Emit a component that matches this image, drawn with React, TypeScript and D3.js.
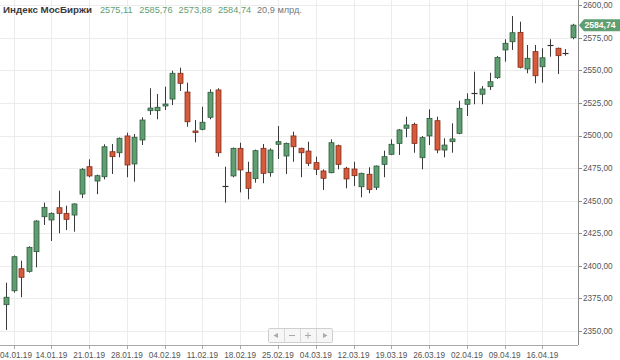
import * as d3 from "d3"
import React, { useEffect } from "react"

// trading days, 2019
const dates = [
    "03.01", "04.01", "08.01", "09.01", "10.01", "11.01",
    "14.01", "15.01", "16.01", "17.01", "18.01",
    "21.01", "22.01", "23.01", "24.01", "25.01",
    "28.01", "29.01", "30.01", "31.01", "01.02",
    "04.02", "05.02", "06.02", "07.02", "08.02",
    "11.02", "12.02", "13.02", "14.02", "15.02",
    "18.02", "19.02", "20.02", "21.02", "22.02",
    "25.02", "26.02", "27.02", "28.02", "01.03",
    "04.03", "05.03", "06.03", "07.03", "11.03",
    "12.03", "13.03", "14.03", "15.03", "18.03",
    "19.03", "20.03", "21.03", "22.03", "25.03",
    "26.03", "27.03", "28.03", "29.03", "01.04",
    "02.04", "03.04", "04.04", "05.04", "08.04",
    "09.04", "10.04", "11.04", "12.04", "15.04",
    "16.04", "17.04", "18.04", "19.04", "22.04",
]

const opens = [
    2370.2, 2380.9, 2397.8, 2395.8, 2410.9, 2437.7, 2435.2, 2444.6, 2440.3, 2439.0,
    2455.1, 2476.1, 2465.1, 2468.4, 2487.6, 2486.8, 2499.7, 2478.2, 2496.6, 2519.1,
    2519.1, 2522.7, 2528.0, 2547.8, 2533.4, 2503.5, 2504.8, 2514.0, 2535.0, 2461.0,
    2469.0, 2490.2, 2471.8, 2466.9, 2490.2, 2471.5, 2493.3, 2484.3, 2499.7, 2490.2,
    2488.1, 2479.2, 2472.8, 2471.5, 2492.2, 2474.9, 2474.3, 2460.7, 2470.3, 2460.3,
    2477.9, 2485.6, 2494.0, 2505.6, 2508.6, 2483.0, 2499.7, 2511.4, 2488.9, 2495.3,
    2501.7, 2524.0, 2532.5, 2531.7, 2537.5, 2544.4, 2565.7, 2572.0, 2579.2, 2551.1,
    2564.4, 2552.8, 2569.5, 2567.0, 2563.5, 2575.11,
]
const highs = [
    2387.1, 2408.0, 2403.9, 2415.0, 2435.0, 2448.5, 2441.0, 2457.7, 2446.2, 2448.0,
    2475.0, 2481.8, 2470.0, 2493.3, 2493.5, 2498.5, 2502.2, 2501.2, 2514.0, 2536.3,
    2531.9, 2537.5, 2549.8, 2552.1, 2540.6, 2511.9, 2522.1, 2535.5, 2536.3, 2476.1,
    2490.8, 2494.5, 2479.9, 2489.2, 2493.5, 2490.2, 2507.3, 2494.6, 2503.0, 2490.7,
    2495.3, 2483.8, 2474.0, 2497.1, 2493.0, 2476.0, 2479.9, 2471.5, 2475.6, 2477.0,
    2488.4, 2497.1, 2505.0, 2514.5, 2509.9, 2499.7, 2520.1, 2514.5, 2497.9, 2509.4,
    2526.7, 2532.4, 2549.0, 2538.0, 2548.2, 2561.0, 2573.9, 2591.7, 2587.4, 2569.5,
    2569.5, 2567.0, 2573.9, 2567.5, 2566.4, 2585.76,
]
const lows = [
    2350.8, 2379.5, 2375.9, 2394.8, 2398.9, 2431.4, 2419.1, 2425.0, 2427.5, 2426.2,
    2452.0, 2468.0, 2455.0, 2466.4, 2470.5, 2483.3, 2468.0, 2464.6, 2492.7, 2515.8,
    2512.5, 2519.6, 2523.4, 2534.2, 2506.8, 2494.8, 2504.0, 2512.5, 2483.8, 2448.5,
    2468.0, 2456.4, 2451.1, 2463.8, 2463.4, 2468.4, 2482.0, 2470.5, 2479.9, 2468.0,
    2476.6, 2469.7, 2458.2, 2471.0, 2474.1, 2459.5, 2461.3, 2452.6, 2455.7, 2458.2,
    2468.0, 2485.0, 2485.1, 2498.7, 2486.8, 2474.1, 2492.7, 2486.4, 2483.3, 2486.8,
    2501.0, 2515.0, 2524.0, 2524.0, 2535.0, 2543.5, 2556.7, 2565.7, 2551.6, 2547.8,
    2540.1, 2540.6, 2560.5, 2547.2, 2561.3, 2573.88,
]
const closes = [
    2375.9, 2407.0, 2391.2, 2414.2, 2434.4, 2444.9, 2440.3, 2440.3, 2435.7, 2447.5,
    2474.1, 2469.0, 2469.2, 2491.4, 2483.8, 2497.9, 2477.4, 2498.7, 2511.9, 2521.1,
    2521.7, 2524.2, 2547.8, 2540.1, 2510.6, 2502.5, 2510.2, 2533.2, 2486.8, 2461.0,
    2490.2, 2473.6, 2459.5, 2488.4, 2471.0, 2488.9, 2495.3, 2494.0, 2491.4, 2486.8,
    2478.7, 2474.1, 2467.2, 2494.5, 2477.9, 2466.7, 2469.2, 2471.0, 2458.7, 2476.6,
    2483.8, 2493.3, 2504.3, 2508.1, 2494.0, 2498.4, 2513.2, 2488.9, 2492.7, 2497.4,
    2520.9, 2527.8, 2532.5, 2535.7, 2541.3, 2560.0, 2570.8, 2578.9, 2552.4, 2559.3,
    2545.9, 2559.7, 2569.5, 2561.3, 2563.5, 2584.74,
]

const tickDates = ["04.01", "14.01", "21.01", "28.01", "04.02", "11.02", "18.02", "25.02",
    "04.03", "12.03", "19.03", "26.03", "02.04", "09.04", "16.04"]
const yTicks = [2350, 2375, 2400, 2425, 2450, 2475, 2500, 2525, 2550, 2575, 2600]

const title = "Индекс МосБиржи"
const headerValues = ["2575,11", "2585,76", "2573,88", "2584,74"]
const volumeText = "20,9 млрд."
const lastPrice = "2584,74"

const W = 620
const H = 360
const plotRight = 578
const plotBottom = 345
const green = "#5f9e70"
const greenDark = "#2f5a3c"
const red = "#d65a3c"
const redDark = "#7e2e1c"
const fmt = (v: number) => v.toFixed(2).replace(".", ",")

const App = () => {
    useEffect(() => {
        document.body.style.margin = "0"
    }, [])

    // band scale over trading days, centers every ~7.56px
    const x = d3.scaleBand<string>()
        .domain(dates)
        .range([2.2, 2.2 + dates.length * 7.556])
        .paddingInner(0.34)
        .paddingOuter(0.17)
    const bw = x.bandwidth()
    const cx = (d: string) => (x(d) as number) + bw / 2
    const y = d3.scaleLinear().domain([2350, 2600]).range([331, 5.25])

    const candles = dates.map((d, i) => ({
        d, o: opens[i], h: highs[i], l: lows[i], c: closes[i],
    }))

    const tagY = y(closes[closes.length - 1])

    return (
        <svg width={W} height={H} style={{ display: "block", background: "#fff" }}
            fontFamily="'Liberation Sans', Arial, sans-serif">
            {/* grid */}
            <g stroke="#ececec" strokeWidth={1}>
                {yTicks.map(t => (
                    <line key={"gy" + t} x1={0} x2={plotRight} y1={Math.round(y(t)) + 0.5} y2={Math.round(y(t)) + 0.5} />
                ))}
                {tickDates.map(t => (
                    <line key={"gx" + t} x1={Math.round(cx(t)) + 0.5} x2={Math.round(cx(t)) + 0.5} y1={0} y2={plotBottom} />
                ))}
            </g>

            {/* candles */}
            <g>
                {candles.map(k => {
                    const xc = Math.round(cx(k.d)) + 0.5
                    const up = k.c > k.o
                    const doji = k.c === k.o
                    const top = y(Math.max(k.o, k.c))
                    const bot = y(Math.min(k.o, k.c))
                    return (
                        <g key={k.d}>
                            <line x1={xc} x2={xc} y1={y(k.h)} y2={y(k.l)} stroke="#3a3a3a" strokeWidth={1} />
                            {doji ? (
                                <line x1={xc - bw / 2 - 0.5} x2={xc + bw / 2 + 0.5} y1={Math.round(top) + 0.5} y2={Math.round(top) + 0.5}
                                    stroke="#333" strokeWidth={1.2} />
                            ) : (
                                <rect x={xc - bw / 2} y={top} width={bw} height={Math.max(1.5, bot - top)}
                                    fill={up ? green : red} stroke={up ? greenDark : redDark} strokeWidth={0.8} />
                            )}
                        </g>
                    )
                })}
            </g>

            {/* axes */}
            <line x1={plotRight + 0.5} x2={plotRight + 0.5} y1={0} y2={plotBottom} stroke="#8c8c8c" />
            <line x1={0} x2={plotRight} y1={plotBottom + 0.5} y2={plotBottom + 0.5} stroke="#a8a8a8" />
            <g fontSize={8.2} fill="#555">
                {yTicks.map(t => (
                    <g key={"yt" + t}>
                        <line x1={plotRight} x2={plotRight + 4} y1={Math.round(y(t)) + 0.5} y2={Math.round(y(t)) + 0.5} stroke="#8c8c8c" />
                        <text x={plotRight + 5} y={y(t)} dy="0.35em">{fmt(t)}</text>
                    </g>
                ))}
                {tickDates.map(t => (
                    <g key={"xt" + t}>
                        <line x1={Math.round(cx(t)) + 0.5} x2={Math.round(cx(t)) + 0.5} y1={plotBottom} y2={plotBottom + 4} stroke="#a8a8a8" />
                        <text x={Math.max(cx(t), 16)} y={plotBottom + 10} dy="0.35em" textAnchor="middle">{t + ".19"}</text>
                    </g>
                ))}
            </g>

            {/* last price tag */}
            <g>
                <path d={`M${plotRight + 1},${tagY} L${plotRight + 6},${tagY - 6} L${W},${tagY - 6} L${W},${tagY + 6} L${plotRight + 6},${tagY + 6} Z`}
                    fill={green} />
                <text x={plotRight + 6.5} y={tagY} dy="0.35em" fontSize={8.6} fill="#fff" fontWeight="bold">{lastPrice}</text>
            </g>

            {/* header */}
            <g>
                <text x={3} y={13} fontSize={9.8} fontWeight="bold" fill="#3a3a3a">{title}</text>
                {headerValues.map((v, i) => (
                    <text key={v} x={100 + i * 39.3} y={13} fontSize={9.2} fill={green}>{v}</text>
                ))}
                <text x={257} y={13} fontSize={9.2} fill="#777">{volumeText}</text>
            </g>

            {/* navigator buttons */}
            <g transform="translate(268,328)">
                <rect x={0.5} y={0.5} width={64} height={14} fill="#f6f6f6" stroke="#cfcfcf" rx={1} />
                {[16, 32, 48].map(s => (
                    <line key={s} x1={s + 0.5} x2={s + 0.5} y1={1} y2={14} stroke="#d8d8d8" />
                ))}
                <path d="M5.5,7.5 L10,5 L10,10 Z" fill="#aaa" />
                <line x1={21} x2={27} y1={7.5} y2={7.5} stroke="#aaa" />
                <line x1={37} x2={43} y1={7.5} y2={7.5} stroke="#aaa" />
                <line x1={40} x2={40} y1={4.5} y2={10.5} stroke="#aaa" />
                <path d="M59.5,7.5 L55,5 L55,10 Z" fill="#aaa" />
            </g>
        </svg>
    )
}

export default App
